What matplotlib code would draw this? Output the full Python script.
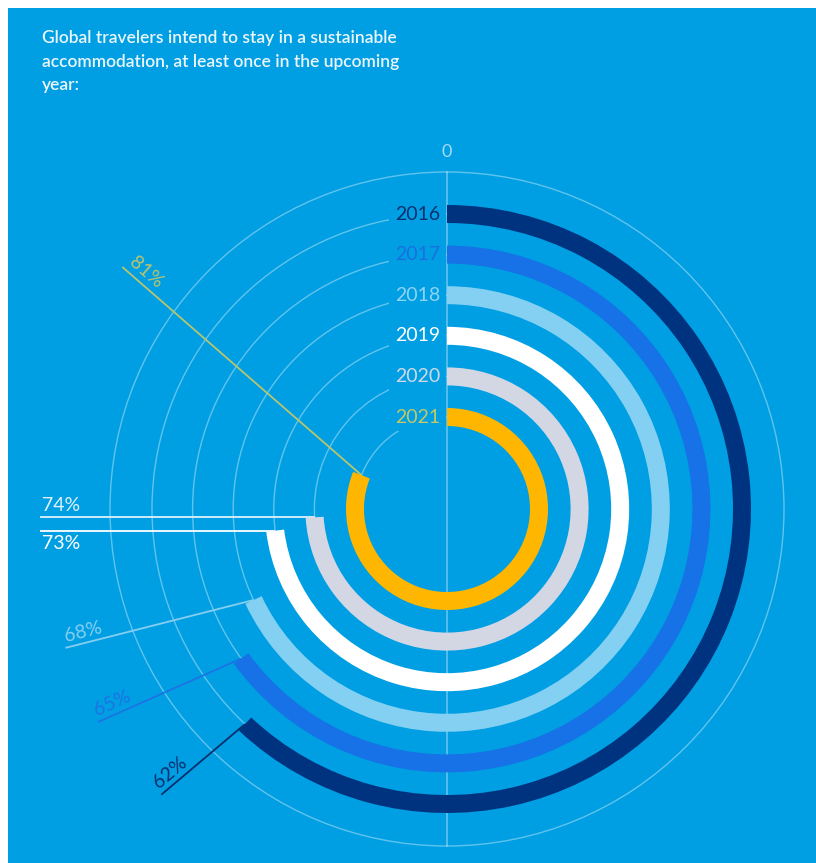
import numpy as np
import matplotlib.pyplot as plt
from matplotlib.patches import Wedge, Circle, Rectangle

plt.rcParams['font.family'] = ['Lato', 'DejaVu Sans']

# data
years = ['2016', '2017', '2018', '2019', '2020', '2021']
share = [62, 65, 68, 73, 74, 81]          # percent of travelers
title = ("Global travelers intend to stay in a sustainable\n"
         "accommodation, at least once in the upcoming\n"
         "year:")

# styling
bg = '#009FE3'
ring_colors = ['#00337F', '#1672E6', '#84D0F2', '#FFFFFF', '#D3D7E4', '#FFB600']
year_colors = ['#0B2F6E', '#1A6FE0', '#8FD3F3', '#FFFFFF', '#D0D8E6', '#C4C866']
pct_colors = ['#0B2F6E', '#1C73E3', '#86CEF0', '#FFFFFF', '#DDF1FB', '#B9C46E']
grid_col = (1, 1, 1, 0.38)

# layout (pixel units, origin at the chart centre)
W, H = 816, 863
cx, cy = 447, 509
r_outer = 337
ring_w = 18
radii = [92 + 40.6 * (len(years) - 1 - i) for i in range(len(years))]
# where each leader line ends: (angle clockwise from top, radius) or horizontal
leader_end = [(225, 404), (238.6, 409), (250, 406), ('h', -407), ('h', -407), (306.7, 405)]
label_side = ['above', 'above', 'above', 'below', 'above', 'above']

fig = plt.figure(figsize=(W / 100, H / 100), dpi=100, facecolor='white')
ax = fig.add_axes([0, 0, 1, 1])
ax.set_xlim(-cx, W - cx)
ax.set_ylim(-(H - cy), cy)
ax.set_aspect('equal')
ax.axis('off')

ax.add_patch(Rectangle((8 - cx, -(H - cy)), W, H - 8, facecolor=bg, edgecolor='none', zorder=0))

# grid circles and vertical axis
for r in radii + [r_outer]:
    ax.add_patch(Circle((0, 0), r, fill=False, edgecolor=grid_col, lw=1.0, zorder=1))
ax.plot([0, 0], [-r_outer, r_outer], color=grid_col, lw=1.2, zorder=1)


def polar_xy(deg, r):
    t = np.radians(deg)
    return r * np.sin(t), r * np.cos(t)


for i, (yr, p) in enumerate(zip(years, share)):
    r = radii[i]
    sweep = 360 * p / 100
    ax.add_patch(Wedge((0, 0), r + ring_w / 2, 90 - sweep, 90, width=ring_w,
                       facecolor=ring_colors[i], edgecolor='none', zorder=3))

    # year label at the top of the ring
    ax.text(-7, r, yr, ha='right', va='center', fontsize=14, color=year_colors[i], zorder=5,
            bbox=dict(boxstyle='square,pad=0.3', facecolor=bg, edgecolor='none'))

    # leader line from the end of the arc
    x0, y0 = polar_xy(sweep, r)
    e = leader_end[i]
    if e[0] == 'h':
        x1, y1 = e[1], y0
    else:
        x1, y1 = polar_xy(e[0], e[1])
    ax.plot([x0, x1], [y0, y1], color=pct_colors[i], lw=1.3, zorder=2,
            solid_capstyle='butt')

    ang = np.degrees(np.arctan2(y0 - y1, x0 - x1))
    nx, ny = -np.sin(np.radians(ang)), np.cos(np.radians(ang))
    off = 3 if label_side[i] == 'above' else -4
    ax.text(x1 + 2 * np.cos(np.radians(ang)) + off * nx,
            y1 + 2 * np.sin(np.radians(ang)) + off * ny,
            f'{p}%', rotation=ang, rotation_mode='anchor', ha='left',
            va='bottom' if label_side[i] == 'above' else 'top',
            fontsize=14, color=pct_colors[i], zorder=5)

ax.text(0, r_outer + 12, '0', ha='center', va='bottom', fontsize=13, color='#A6DBF5', zorder=5)

ax.text(42 - cx, cy - 30, title, ha='left', va='top', fontsize=12.5, color='#EAF6FC',
        fontweight='semibold', linespacing=1.58, zorder=5)

fig.savefig('out.png', dpi=100, facecolor='white')
